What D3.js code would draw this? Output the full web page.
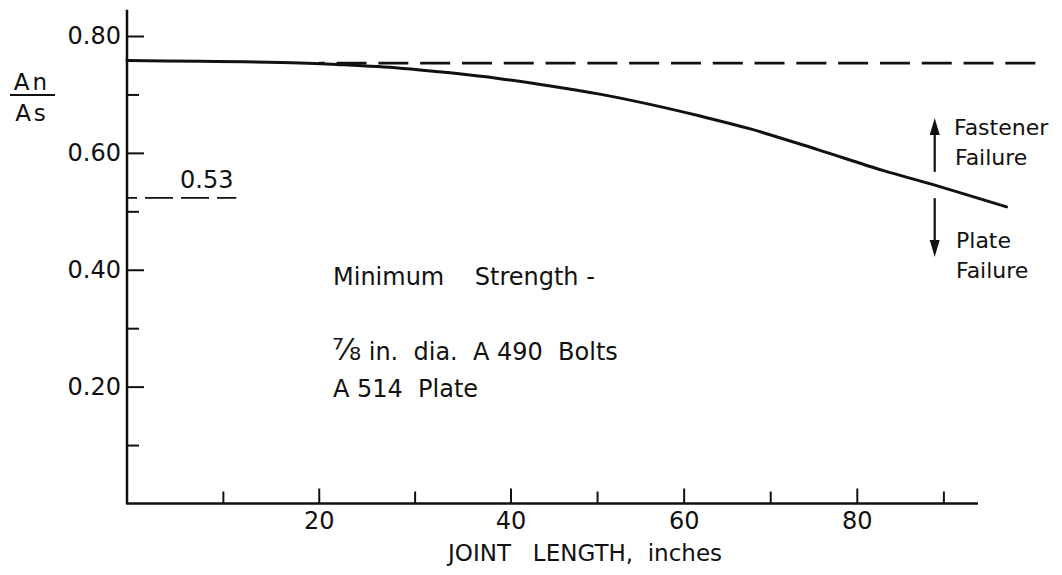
<!DOCTYPE html>
<html>
<head>
<meta charset="utf-8">
<script src="https://cdn.jsdelivr.net/npm/d3@7"></script>
<style>
  html, body { margin: 0; padding: 0; background: #fff; }
  svg { display: block; }
  text { font-family: "DejaVu Sans", sans-serif; fill: #111; white-space: pre; }
</style>
</head>
<body>
<svg id="chart" width="1062" height="575"></svg>
<script>
// ---- data ----
const jointLength = [0, 18, 22.2, 28.5, 33.7, 38.9, 44.6, 50.3, 56.1, 61.9, 67.7, 75.4, 83.0, 89.2, 97.3];
const areaRatio   = [0.758, 0.754, 0.751, 0.745, 0.737, 0.727, 0.7145, 0.7005, 0.683, 0.663, 0.641, 0.606, 0.570, 0.544, 0.5075];

const upperLimitX = [20, 101.6];      // dashed horizontal line
const upperLimitY = 0.7535;
const lowerLimitX = [0, 11.4];        // short dashed line labelled 0.53
const lowerLimitY = 0.523;
const lowerLimitLabel = "0.53";

const xMajorTicks = [20, 40, 60, 80];
const xMinorTicks = [10, 30, 50, 70, 90];
const yMajorTicks = [0.2, 0.4, 0.6, 0.8];
const yMinorTicks = [0.1, 0.3, 0.5, 0.7];

const arrowX = 89.0;
const arrowUp = [0.5675, 0.6595];     // from, tip
const arrowDown = [0.5225, 0.422];    // from, tip

// ---- scales (hand drawn axis: slightly non-uniform spacing) ----
const svg = d3.select("#chart");
const x = d3.scaleLinear().domain([0, 40, 94]).range([127, 510.5, 978]);
const y = d3.scaleLinear().domain([0, 0.8]).range([503.5, 36]);
const yTop = 0.845;

const ink = "#111";

// axis lines
svg.append("line").attr("x1", x(0)).attr("x2", x(0)).attr("y1", y(0)).attr("y2", y(yTop))
  .attr("stroke", ink).attr("stroke-width", 2.5);
svg.append("line").attr("x1", x(0) - 1).attr("x2", x(94)).attr("y1", y(0)).attr("y2", y(0))
  .attr("stroke", ink).attr("stroke-width", 2.5);

function styleAxis(g) {
  g.select(".domain").remove();
  g.selectAll(".tick line").attr("stroke", ink).attr("stroke-width", 2);
  g.selectAll(".tick text").attr("fill", ink).style("font-family", '"DejaVu Sans", sans-serif');
}

// y axis: ticks pointing inside, labels on the left
svg.append("g").attr("transform", `translate(${x(0)},0)`)
  .call(d3.axisLeft(y).tickValues(yMajorTicks).tickSizeInner(-17).tickSizeOuter(0)
        .tickPadding(6).tickFormat(d3.format(".2f")))
  .call(styleAxis)
  .call(g => g.selectAll(".tick text").attr("font-size", 24));
svg.append("g").attr("transform", `translate(${x(0)},0)`)
  .call(d3.axisLeft(y).tickValues(yMinorTicks).tickSizeInner(-12).tickSizeOuter(0).tickFormat(""))
  .call(styleAxis);

// x axis: ticks pointing up, labels below
svg.append("g").attr("transform", `translate(0,${y(0)})`)
  .call(d3.axisBottom(x).tickValues(xMajorTicks).tickSizeInner(-15).tickSizeOuter(0)
        .tickPadding(8).tickFormat(d3.format("d")))
  .call(styleAxis)
  .call(g => g.selectAll(".tick text").attr("font-size", 24));
svg.append("g").attr("transform", `translate(0,${y(0)})`)
  .call(d3.axisBottom(x).tickValues(xMinorTicks).tickSizeInner(-12).tickSizeOuter(0).tickFormat(""))
  .call(styleAxis);

// dashed upper line
svg.append("line")
  .attr("x1", x(upperLimitX[0])).attr("x2", x(upperLimitX[1]))
  .attr("y1", y(upperLimitY)).attr("y2", y(upperLimitY))
  .attr("stroke", ink).attr("stroke-width", 2.6)
  .attr("stroke-dasharray", "30,11.8").attr("stroke-dashoffset", 24);

// short dashed 0.53 line
svg.append("line")
  .attr("x1", x(lowerLimitX[0])).attr("x2", x(lowerLimitX[1]))
  .attr("y1", y(lowerLimitY)).attr("y2", y(lowerLimitY))
  .attr("stroke", ink).attr("stroke-width", 1.8)
  .attr("stroke-dasharray", "28,8").attr("stroke-dashoffset", 18);
svg.append("text").attr("x", 180).attr("y", 188).attr("font-size", 24).text(lowerLimitLabel);

// main curve
const pts = jointLength.map((d, i) => [d, areaRatio[i]]);
svg.append("path").datum(pts)
  .attr("fill", "none").attr("stroke", ink).attr("stroke-width", 3)
  .attr("stroke-linecap", "round")
  .attr("d", d3.line().x(d => x(d[0])).y(d => y(d[1])).curve(d3.curveCatmullRom.alpha(0.5)));

// arrows
function arrow(from, tip) {
  const xa = x(arrowX), y0 = y(from), y1 = y(tip);
  const dir = Math.sign(y1 - y0);
  const headLen = 17, headW = 5;
  svg.append("line").attr("x1", xa).attr("x2", xa).attr("y1", y0).attr("y2", y1 - dir * headLen + dir)
    .attr("stroke", ink).attr("stroke-width", 2.2);
  svg.append("path")
    .attr("d", `M${xa},${y1} L${xa - headW},${y1 - dir * headLen} L${xa + headW},${y1 - dir * headLen} Z`)
    .attr("fill", ink);
}
arrow(arrowUp[0], arrowUp[1]);
arrow(arrowDown[0], arrowDown[1]);

// right labels
const rl = svg.append("g");
rl.append("text").attr("x", 954).attr("y", 135).attr("font-size", 22).text("Fastener");
rl.append("text").attr("x", 955).attr("y", 165).attr("font-size", 22).text("Failure");
rl.append("text").attr("x", 956).attr("y", 248).attr("font-size", 22).text("Plate");
rl.append("text").attr("x", 956).attr("y", 278).attr("font-size", 22).text("Failure");

// annotation block
svg.append("text").attr("x", 333).attr("y", 285).attr("font-size", 24).text("Minimum    Strength -");
const t2 = svg.append("text").attr("x", 332).attr("y", 360).attr("font-size", 24);
t2.append("tspan").attr("font-size", 30).text("\u215E");
t2.append("tspan").text(" in.  dia.  A 490  Bolts");
svg.append("text").attr("x", 333).attr("y", 397).attr("font-size", 24).text("A 514  Plate");

// axis titles
svg.append("text").attr("x", 448).attr("y", 561).attr("font-size", 23).text("JOINT   LENGTH,  inches");

svg.append("text").attr("x", 32).attr("y", 90).attr("font-size", 23).attr("text-anchor", "middle")
  .attr("letter-spacing", 3).text("An");
svg.append("line").attr("x1", 10).attr("x2", 55).attr("y1", 95).attr("y2", 95)
  .attr("stroke", ink).attr("stroke-width", 2.2);
svg.append("text").attr("x", 32).attr("y", 121).attr("font-size", 23).attr("text-anchor", "middle")
  .attr("letter-spacing", 3).text("As");
</script>
</body>
</html>
